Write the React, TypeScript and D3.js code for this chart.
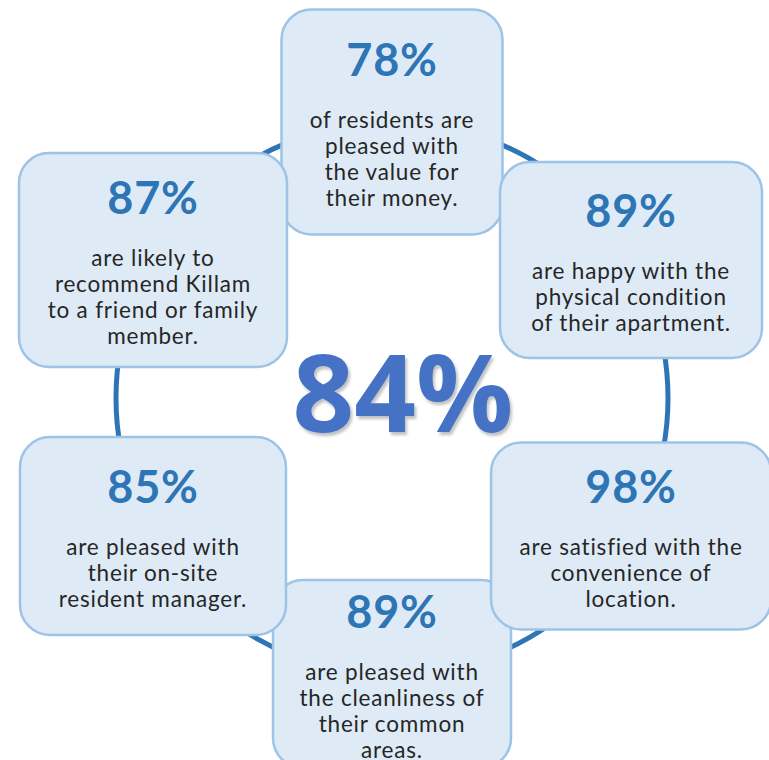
import React from "react";
import * as d3 from "d3";

// ---- data ----
const overall = "84%";
const percents = ["78%", "89%", "98%", "89%", "85%", "87%"];
const descriptions: string[][] = [
  ["of residents are", "pleased with", "the value for", "their money."],
  ["are happy with the", "physical condition", "of their apartment."],
  ["are satisfied with the", "convenience of", "location."],
  ["are pleased with", "the cleanliness of", "their common", "areas."],
  ["are pleased with", "their on-site", "resident manager."],
  ["are likely to", "recommend Killam", "to a friend or family", "member."],
];

// ---- layout (sizes of each box, in draw order index) ----
const boxWidths = [221, 262, 280, 238, 266, 268];
const boxHeights = [225, 196, 187, 188, 198, 214];
const drawOrder = [0, 3, 1, 2, 4, 5];

const W = 769;
const H = 760;
const cx = 392;
const cy = 398;
const R = 276;

const angle = d3
  .scaleLinear()
  .domain([0, percents.length])
  .range([-Math.PI / 2, (3 * Math.PI) / 2]);

const headColor = "#2E75B6";
const bodyColor = "#262626";
const fill = "#DEEAF6";
const stroke = "#9DC3E6";

export default function App() {
  const items = percents.map((p, i) => {
    const a = angle(i);
    const bx = cx + R * Math.cos(a);
    const by = cy + R * Math.sin(a);
    const w = boxWidths[i];
    const h = boxHeights[i];
    const n = descriptions[i].length;
    const hb = by + 2 - (19 + (n - 1) * 26) / 2;
    return { p, i, bx, by, w, h, hb, lines: descriptions[i] };
  });

  return (
    <svg
      width={W}
      height={H}
      style={{ position: "absolute", left: 0, top: 0, background: "#fff" }}
    >
      <defs>
        <filter id="sh" x="-10%" y="-10%" width="130%" height="130%">
          <feGaussianBlur in="SourceAlpha" stdDeviation="1.5" />
          <feOffset dx="2" dy="3" result="o" />
          <feComponentTransfer>
            <feFuncA type="linear" slope="0.25" />
          </feComponentTransfer>
          <feMerge>
            <feMergeNode />
            <feMergeNode in="SourceGraphic" />
          </feMerge>
        </filter>
      </defs>
      <circle cx={cx} cy={cy} r={R} fill="none" stroke={headColor} strokeWidth={5} />
      {drawOrder.map((k) => {
        const it = items[k];
        return (
          <g key={k}>
            <rect
              x={it.bx - it.w / 2}
              y={it.by - it.h / 2}
              width={it.w}
              height={it.h}
              rx={30}
              ry={30}
              fill={fill}
              stroke={stroke}
              strokeWidth={2.5}
            />
            <text
              x={it.bx}
              y={it.hb}
              textAnchor="middle"
              fontFamily="Lato"
              fontWeight={700}
              fontSize={45}
              letterSpacing={0.8}
              fill={headColor}
            >
              {it.p}
            </text>
            {it.lines.map((l, j) => (
              <text
                key={j}
                x={it.bx}
                y={it.hb + 52 + j * 26}
                textAnchor="middle"
                fontFamily="Lato"
                fontSize={22.5}
                letterSpacing={0.8}
                fill={bodyColor}
              >
                {l}
              </text>
            ))}
          </g>
        );
      })}
      <text
        x={403}
        y={432}
        textAnchor="middle"
        fontFamily="Open Sans"
        fontWeight={700}
        fontSize={108}
        letterSpacing={0}
        fill="#4472C4"
        filter="url(#sh)"
      >
        {overall}
      </text>
    </svg>
  );
}
